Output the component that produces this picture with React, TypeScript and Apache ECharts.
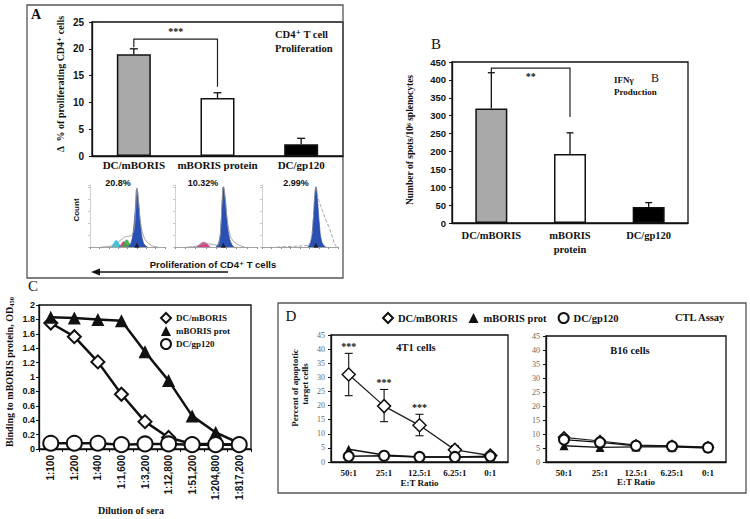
import React, { useEffect, useRef } from "react";
import * as echarts from "echarts";

const SERIF = "'Liberation Serif', 'DejaVu Serif', 'Times New Roman', serif";
const SANS = "'Liberation Sans', Arial, 'DejaVu Sans', sans-serif";

// Panel A: CD4+ T cell proliferation
const catsA = ["DC/mBORIS", "mBORIS protein", "DC/gp120"];
const prolifValues = [19, 10.8, 2.2];
const prolifErrHigh = [20, 11.8, 3.3];
const barColors = ["#a9a9a9", "#ffffff", "#000000"];
const histPercents = ["20.8%", "10.32%", "2.99%"];

// Flow histograms (x: fluorescence bins 0-20, y: relative count)
const hist1Peak = [[10.2, 0], [11, 8], [11.6, 30], [12.1, 65], [12.5, 97], [13, 70], [13.5, 35], [14.1, 10], [14.8, 2], [15.4, 0]];
const hist1Outline = [[3, 0], [5, 1], [6.5, 3], [7.5, 8], [8.5, 13], [9.5, 17], [10.5, 18], [11.2, 20], [11.8, 32], [12.2, 66], [12.5, 98], [13.0, 72], [13.5, 40], [14.2, 20], [15, 10], [16, 4], [17, 1], [18, 0]];
const hist1Cyan = [[5.6, 0], [6.3, 6], [7, 11], [7.7, 6], [8.3, 0]];
const hist1Pink = [[7.8, 0], [8.5, 6], [9, 9], [9.5, 5], [10, 0]];
const hist1Green = [[8.6, 0], [9.2, 8], [9.8, 12], [10.4, 7], [11, 0]];
const hist2Peak = [[10.0, 0], [10.7, 8], [11.2, 35], [11.5, 75], [11.8, 100], [12.2, 82], [12.7, 45], [13.2, 18], [13.8, 5], [14.4, 0]];
const hist2Outline = [[3, 0], [5, 1], [6.5, 4], [7.5, 6], [8.5, 5], [9.5, 4], [10.2, 3], [10.8, 10], [11.2, 37], [11.5, 77], [11.8, 100], [12.2, 84], [12.7, 48], [13.3, 24], [14, 12], [14.9, 6], [16, 2], [17, 0]];
const hist2Pink = [[5.2, 0], [6, 4], [7, 8], [7.8, 5], [8.6, 0]];
const hist3Peak = [[12.0, 0], [12.8, 8], [13.4, 38], [13.9, 85], [14.2, 100], [14.6, 78], [15.1, 38], [15.6, 12], [16.2, 3], [16.8, 0]];
const hist3Outline = [[4, 0], [8, 1], [11, 2], [12.0, 3], [12.8, 10], [13.4, 40], [13.9, 87], [14.2, 100], [14.6, 86], [15.1, 75], [15.8, 62], [16.8, 45], [17.8, 30], [18.6, 15], [19.3, 3], [19.6, 0]];
const histMarkers = [12.5, 11.8, 14.2];

// Panel B: IFN-gamma production
const catsB = ["DC/mBORIS", "mBORIS\nprotein", "DC/gp120"];
const ifnValues = [320, 193, 45];
const ifnErrHigh = [420, 252, 57];

// Panel C: antibody binding
const dilutions = ["1:100", "1:200", "1:400", "1:1,600", "1:3,200", "1:12,800", "1:51,200", "1:204,800", "1:817,200"];
const bindDC = [1.75, 1.56, 1.21, 0.76, 0.38, 0.16, 0.07, 0.07, 0.06];
const bindProt = [1.83, 1.82, 1.8, 1.78, 1.35, 0.95, 0.46, 0.23, 0.08];
const bindGp = [0.08, 0.08, 0.08, 0.06, 0.07, 0.07, 0.06, 0.06, 0.06];

// Panel D: CTL assay
const ratios = ["50:1", "25:1", "12.5:1", "6.25:1", "0:1"];
const t4DC = [31, 19.8, 13, 4.3, 2.3];
const t4DCLo = [23.5, 14.3, 9.3, 3.0];
const t4DCHi = [38.5, 25.7, 16.9, 5.8];
const t4Sig = ["***", "***", "***", ""];
const t4Prot = [4.5, 2.5, 1.8, 1.8, 1.8];
const t4Gp = [2, 2.2, 1.8, 1.8, 2];
const b16DC = [8.8, 7.5, 6, 5.8, 5.3];
const b16Prot = [5.8, 5.2, 5.4, 5.4, 5];
const b16Gp = [8, 7, 5.8, 5.6, 5.2];

const bold = (size: number, family = SERIF, color = "#111") => ({ fontFamily: family, fontWeight: "bold", fontSize: size, color });

function errorRender(capW: number, bothCaps: boolean, lw: number) {
  return (params: any, api: any) => {
    const x = api.value(0);
    const lo = api.coord([x, api.value(1)]);
    const hi = api.coord([x, api.value(2)]);
    const style = { stroke: "#111", lineWidth: lw };
    const children: any[] = [
      { type: "line", shape: { x1: lo[0], y1: lo[1], x2: hi[0], y2: hi[1] }, style },
      { type: "line", shape: { x1: hi[0] - capW / 2, y1: hi[1], x2: hi[0] + capW / 2, y2: hi[1] }, style },
    ];
    if (bothCaps) children.push({ type: "line", shape: { x1: lo[0] - capW / 2, y1: lo[1], x2: lo[0] + capW / 2, y2: lo[1] }, style });
    const sig = params.dataIndex < t4Sig.length && bothCaps ? t4Sig[params.dataIndex] : "";
    if (sig) children.push({ type: "text", x: hi[0], y: hi[1] - 7, style: { text: sig, align: "center", verticalAlign: "middle", font: `bold 10px ${SERIF}`, fill: "#111" } });
    return { type: "group", children };
  };
}

function bracketRender(label: string) {
  return (params: any, api: any) => {
    const x0 = api.value(0), x1 = api.value(1);
    const top0 = api.coord([x0, api.value(2)]);
    const top1 = api.coord([x1, api.value(2)]);
    const l = api.coord([x0, api.value(3)]);
    const r = api.coord([x1, api.value(4)]);
    const ty = api.coord([x0, api.value(5)])[1];
    const tx = (top0[0] + top1[0]) / 2;
    return {
      type: "group",
      children: [
        { type: "polyline", shape: { points: [l, top0, top1, r] }, style: { stroke: "#222", lineWidth: 1.2, fill: "none" } },
        { type: "text", x: tx, y: ty, style: { text: label, align: "center", verticalAlign: "middle", font: `bold 10px ${SERIF}`, fill: "#111" } },
      ],
    };
  };
}

function histSeries(idx: number, peak: number[][], outline: number[][], blobs: [number[][], string][], dashed: boolean, marker: number) {
  const s: any[] = [
    { type: "line", xAxisIndex: idx, yAxisIndex: idx, data: peak, smooth: true, showSymbol: false, lineStyle: { color: "#1f3f9a", width: 0.6 }, areaStyle: { color: "#2b50b4", opacity: 1 }, z: 3 },
    { type: "line", xAxisIndex: idx, yAxisIndex: idx, data: outline, smooth: true, showSymbol: false, lineStyle: { color: "#9a9a9a", width: 0.9, type: dashed ? "dashed" : "solid" }, z: 4 },
    { type: "scatter", xAxisIndex: idx, yAxisIndex: idx, data: [[marker, 3]], symbol: "triangle", symbolSize: 5, itemStyle: { color: "#111" }, z: 5 },
  ];
  blobs.forEach(([d, c]) => s.push({ type: "line", xAxisIndex: idx, yAxisIndex: idx, data: d, smooth: true, showSymbol: false, lineStyle: { color: c, width: 0.5 }, areaStyle: { color: c, opacity: 0.9 }, z: 2 }));
  return s;
}

export default function App() {
  const ref = useRef<HTMLDivElement>(null);
  useEffect(() => {
    document.body.style.margin = "0";
    const chart = echarts.init(ref.current!, null, { renderer: "svg" });
    const box = { show: true, borderColor: "#111", borderWidth: 1.3, backgroundColor: "transparent", outerBoundsMode: "none" };
    const plain = { outerBoundsMode: "none" };
    const grids = [
      { left: 92, top: 22, width: 251, height: 134, ...box },
      { left: 452, top: 62, width: 236, height: 161, ...box },
      { left: 39, top: 305, width: 212, height: 144, ...box },
      { left: 331, top: 335, width: 177, height: 127, ...box },
      { left: 546, top: 336, width: 180, height: 126, ...box },
      { left: 90, top: 185, width: 75, height: 62, ...plain },
      { left: 175, top: 185, width: 82, height: 62, ...plain },
      { left: 262, top: 185, width: 76, height: 62, ...plain },
    ];
    const axLine = { show: true, lineStyle: { color: "#111", width: 1.3 } };
    const catAxis = (gi: number, data: string[], label: any, extra: any = {}) => ({
      type: "category", gridIndex: gi, data, axisLine: axLine, axisTick: { show: false }, axisLabel: { interval: 0, ...label }, splitLine: { show: false }, ...extra,
    });
    const valAxis = (gi: number, max: number, interval: number, label: any, extra: any = {}) => ({
      type: "value", gridIndex: gi, min: 0, max, interval, axisLine: axLine, axisTick: { show: true, length: 3, lineStyle: { color: "#111" } }, axisLabel: label, splitLine: { show: false }, ...extra,
    });
    const histX = (gi: number) => ({ type: "value", gridIndex: gi, min: 0, max: 20, interval: 2.5, axisLine: { show: true, lineStyle: { color: "#8c8c8c", width: 0.8 } }, axisTick: { show: true, length: 2, lineStyle: { color: "#8c8c8c" } }, axisLabel: { show: false }, splitLine: { show: false } });
    const histY = (gi: number) => ({ type: "value", gridIndex: gi, min: 0, max: 103, interval: 20, axisLine: { show: true, lineStyle: { color: "#c4c4c4", width: 0.8 } }, axisTick: { show: true, length: 2, lineStyle: { color: "#c4c4c4" } }, axisLabel: { show: false }, splitLine: { show: false } });

    const xAxis = [
      catAxis(0, catsA, { ...bold(11), margin: 3 }),
      catAxis(1, catsB, { ...bold(10.5), margin: 5, lineHeight: 14 }),
      catAxis(2, dilutions, { ...bold(10, SANS), rotate: 90, margin: 6 }, { axisTick: { show: true, length: 3, lineStyle: { color: "#111" } } }),
      catAxis(3, ratios, { ...bold(9), margin: 6 }, { name: "E:T Ratio", nameLocation: "middle", nameGap: 16, nameTextStyle: bold(9) }),
      catAxis(4, ratios, { ...bold(9), margin: 6 }, { name: "E:T Ratio", nameLocation: "middle", nameGap: 14, nameTextStyle: bold(9) }),
      histX(5), histX(6), histX(7),
    ];
    const yAxis = [
      valAxis(0, 25, 5, { ...bold(10, SANS), margin: 8 }),
      valAxis(1, 450, 50, { ...bold(9.5, SANS), margin: 6 }),
      valAxis(2, 2, 0.2, { ...bold(9, SANS), margin: 4 }),
      valAxis(3, 45, 5, { fontFamily: SERIF, fontSize: 8, color: "#666", margin: 6 }),
      valAxis(4, 45, 5, { fontFamily: SERIF, fontSize: 8, color: "#666", margin: 6 }),
      histY(5), histY(6), histY(7),
    ];

    const openSym = (sym: string, size: number, lw: number) => ({ symbol: sym, symbolSize: size, showAllSymbol: true, itemStyle: { color: "#fff", borderColor: "#111", borderWidth: lw } });
    const triSym = (size: number) => ({ symbol: "triangle", symbolSize: size, showAllSymbol: true, itemStyle: { color: "#111", borderColor: "#111", borderWidth: 0 } });

    const series: any[] = [
      // A bars
      { type: "bar", xAxisIndex: 0, yAxisIndex: 0, barWidth: 34, data: prolifValues.map((v, i) => ({ value: v, itemStyle: { color: barColors[i], borderColor: "#111", borderWidth: 1.5 } })), z: 2 },
      { type: "custom", xAxisIndex: 0, yAxisIndex: 0, renderItem: errorRender(8, false, 1.3), encode: { x: 0, y: [1, 2] }, data: prolifValues.map((v, i) => [i, v, prolifErrHigh[i]]), z: 3 },
      { type: "custom", xAxisIndex: 0, yAxisIndex: 0, renderItem: bracketRender("***"), encode: { x: [0, 1], y: [2, 3, 4, 5] }, data: [[0, 1, 21.8, 20.3, 12.9, 23.2]], z: 3 },
      // B bars
      { type: "bar", xAxisIndex: 1, yAxisIndex: 1, barWidth: 32, data: ifnValues.map((v, i) => ({ value: v, itemStyle: { color: barColors[i], borderColor: "#111", borderWidth: 1.5 } })), z: 2 },
      { type: "custom", xAxisIndex: 1, yAxisIndex: 1, renderItem: errorRender(7, false, 1.3), encode: { x: 0, y: [1, 2] }, data: ifnValues.map((v, i) => [i, v, ifnErrHigh[i]]), z: 3 },
      { type: "custom", xAxisIndex: 1, yAxisIndex: 1, renderItem: bracketRender("**"), encode: { x: [0, 1], y: [2, 3, 4, 5] }, data: [[0, 1, 433, 420, 296, 410]], z: 3 },
      // C lines
      { type: "line", name: "DC/mBORIS", xAxisIndex: 2, yAxisIndex: 2, data: bindDC, lineStyle: { color: "#111", width: 2.5 }, ...openSym("diamond", 13, 2), z: 3 },
      { type: "line", name: "mBORIS prot", xAxisIndex: 2, yAxisIndex: 2, data: bindProt, lineStyle: { color: "#111", width: 2.5 }, ...triSym(13), z: 4 },
      { type: "line", name: "DC/gp120", xAxisIndex: 2, yAxisIndex: 2, data: bindGp, lineStyle: { color: "#111", width: 2.5 }, ...openSym("circle", 15, 2), z: 5 },
      // D 4T1
      { type: "custom", xAxisIndex: 3, yAxisIndex: 3, renderItem: errorRender(8, true, 1.1), encode: { x: 0, y: [1, 2] }, data: t4DCLo.map((lo, i) => [i, lo, t4DCHi[i]]), z: 2 },
      { type: "line", name: "DC/mBORIS", xAxisIndex: 3, yAxisIndex: 3, data: t4DC, lineStyle: { color: "#222", width: 1.3 }, ...openSym("diamond", 13, 1.5), z: 3 },
      { type: "line", name: "mBORIS prot", xAxisIndex: 3, yAxisIndex: 3, data: t4Prot, lineStyle: { color: "#111", width: 1.5 }, ...triSym(9), z: 4 },
      { type: "line", name: "DC/gp120", xAxisIndex: 3, yAxisIndex: 3, data: t4Gp, lineStyle: { color: "#111", width: 1.5 }, ...openSym("circle", 10, 2), z: 5 },
      // D B16
      { type: "line", name: "DC/mBORIS", xAxisIndex: 4, yAxisIndex: 4, data: b16DC, lineStyle: { color: "#222", width: 1.2 }, ...openSym("diamond", 11, 1.5), z: 3 },
      { type: "line", name: "mBORIS prot", xAxisIndex: 4, yAxisIndex: 4, data: b16Prot, lineStyle: { color: "#111", width: 1.3 }, ...triSym(9), z: 4 },
      { type: "line", name: "DC/gp120", xAxisIndex: 4, yAxisIndex: 4, data: b16Gp, lineStyle: { color: "#111", width: 1.3 }, ...openSym("circle", 10, 2), z: 5 },
      // Histograms
      ...histSeries(5, hist1Peak, hist1Outline, [[hist1Cyan, "#29c3e0"], [hist1Pink, "#d0307a"], [hist1Green, "#3aa845"]], false, histMarkers[0]),
      ...histSeries(6, hist2Peak, hist2Outline, [[hist2Pink, "#d0307a"]], false, histMarkers[1]),
      ...histSeries(7, hist3Peak, hist3Outline, [], true, histMarkers[2]),
    ];

    const legendNames = ["DC/mBORIS", "mBORIS prot", "DC/gp120"];
    const legendIcons = ["diamond", "triangle", "circle"];
    const legend = [
      { data: legendNames.map((n, i) => ({ name: n, icon: legendIcons[i] })), orient: "vertical", left: 160, top: 312, itemWidth: 10, itemHeight: 10, itemGap: 2, selectedMode: false, textStyle: bold(9), padding: 0 },
      { data: legendNames.map((n, i) => ({ name: n, icon: legendIcons[i] })), orient: "horizontal", left: 382, top: 312, itemWidth: 10, itemHeight: 10, itemGap: 11, selectedMode: false, textStyle: bold(10.5), padding: 0 },
    ];

    const txt = (x: number, y: number, text: string, font: string, extra: any = {}, style: any = {}) => ({
      type: "text", x, y, ...extra, style: { text, font, fill: "#111", align: "center", verticalAlign: "middle", ...style },
    });

    const graphic = [
      { type: "rect", shape: { x: 27, y: 5, width: 316, height: 273 }, style: { fill: "none", stroke: "#555", lineWidth: 1.3 } },
      { type: "rect", shape: { x: 278, y: 303, width: 468, height: 190 }, style: { fill: "none", stroke: "#555", lineWidth: 1.3 } },
      txt(36, 14, "A", `bold 14px ${SERIF}`),
      txt(60, 84, "Δ  % of proliferating CD4⁺ cells", `bold 10px ${SERIF}`, { rotation: Math.PI / 2 }),
      txt(275, 34, "CD4⁺ T cell", `bold 10.5px ${SERIF}`, {}, { align: "left" }),
      txt(275, 48, "Proliferation", `bold 10.5px ${SERIF}`, {}, { align: "left" }),
      txt(118, 183, histPercents[0], `bold 9px ${SANS}`),
      txt(203, 183, histPercents[1], `bold 9px ${SANS}`),
      txt(296, 183, histPercents[2], `bold 9px ${SANS}`),
      txt(76, 210, "Count", `bold 8px ${SANS}`, { rotation: Math.PI / 2 }),
      txt(213, 264, "Proliferation of CD4⁺ T cells", `bold 9.5px ${SANS}`),
      { type: "line", shape: { x1: 228, y1: 272, x2: 98, y2: 272 }, style: { stroke: "#111", lineWidth: 1.5 } },
      { type: "polygon", shape: { points: [[91, 272], [100, 268.5], [100, 275.5]] }, style: { fill: "#111" } },
      txt(436, 44, "B", `15px ${SERIF}`),
      txt(410, 140, "Number of spots/10⁶ splenocytes", `bold 9.5px ${SERIF}`, { rotation: Math.PI / 2 }),
      txt(614, 80, "IFNγ", `bold 9px ${SERIF}`, {}, { align: "left" }),
      txt(655, 78, "B", `12px ${SERIF}`),
      txt(614, 92, "Production", `bold 9px ${SERIF}`, {}, { align: "left" }),
      txt(33, 286, "C", `15px ${SERIF}`),
      {
        type: "text", x: 9, y: 372, rotation: Math.PI / 2,
        style: { text: "Binding to mBORIS protein, OD{sub|450}", font: `bold 10px ${SERIF}`, fill: "#111", align: "center", verticalAlign: "middle", rich: { sub: { fontFamily: SERIF, fontWeight: "bold", fontSize: 6.5, verticalAlign: "bottom", padding: [4, 0, 0, 0] } } },
      },
      txt(131, 510, "Dilution of sera", `bold 10px ${SERIF}`),
      txt(291, 316, "D", `15px ${SERIF}`),
      txt(295, 388, "Percent of apoptotic", `bold 9px ${SERIF}`, { rotation: Math.PI / 2 }),
      txt(305, 384, "target cells", `bold 9px ${SERIF}`, { rotation: Math.PI / 2 }),
      txt(416, 347, "4T1 cells", `bold 10.5px ${SERIF}`),
      txt(630, 350, "B16 cells", `bold 10.5px ${SERIF}`),
      txt(675, 317, "CTL Assay", `bold 10.5px ${SERIF}`, {}, { align: "left" }),
    ];

    chart.setOption({
      animation: false,
      backgroundColor: "#fff",
      textStyle: { fontFamily: SERIF },
      grid: grids,
      xAxis,
      yAxis,
      legend,
      series,
      graphic,
    });
    return () => chart.dispose();
  }, []);
  return <div ref={ref} style={{ position: "fixed", left: 0, top: 0, width: 750, height: 519, background: "#fff" }} />;
}
